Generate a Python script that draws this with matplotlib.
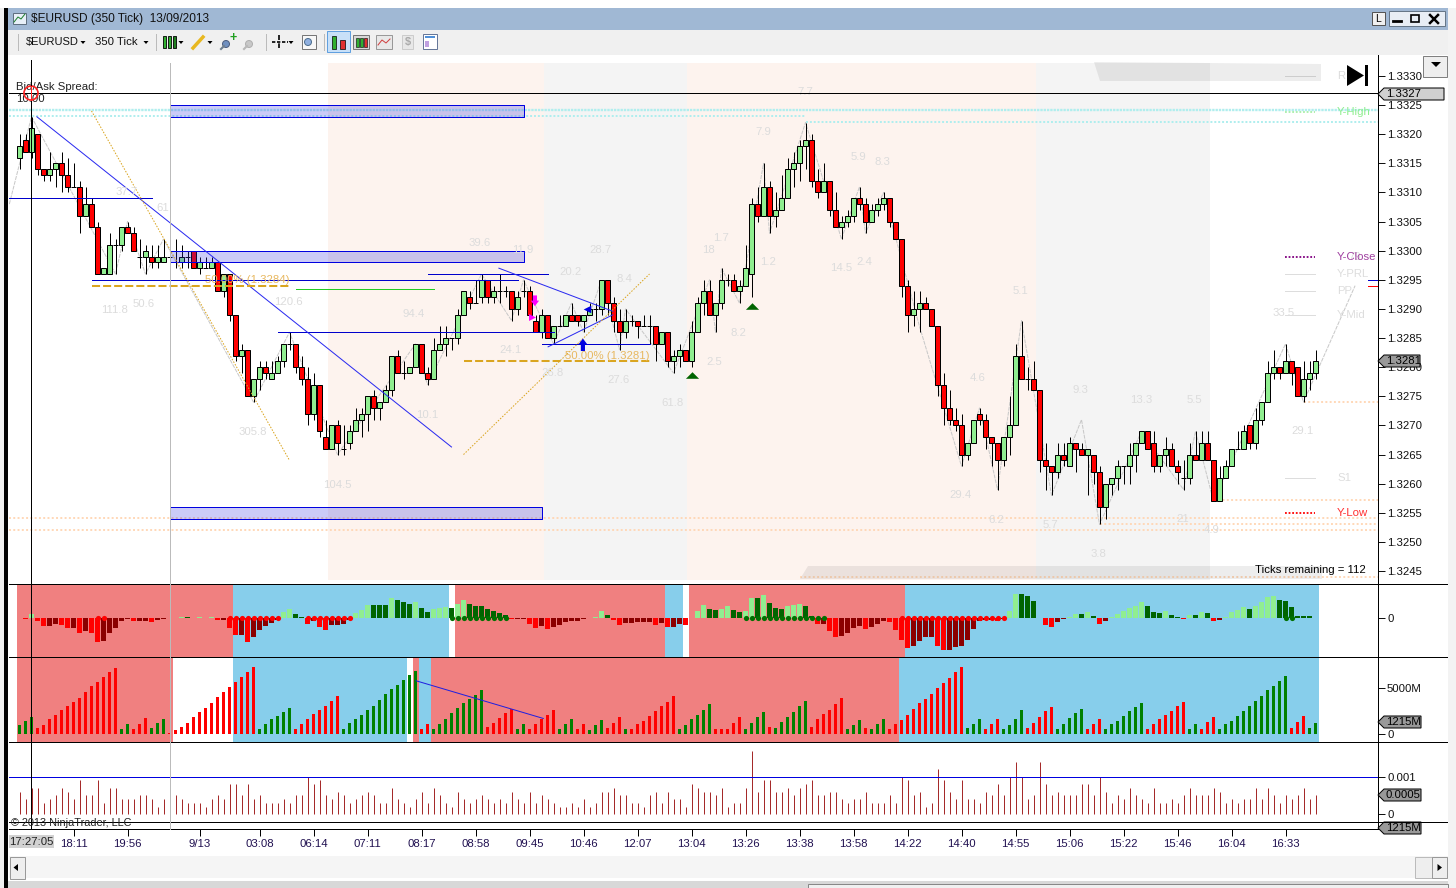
import numpy as np
import matplotlib
matplotlib.use("Agg")
import matplotlib.pyplot as plt
from matplotlib.patches import Polygon, Rectangle, Circle

plt.rcParams['font.family'] = ['Liberation Sans', 'DejaVu Sans']

W, H = 1456, 888
LW = 0.72  # one pixel at 100 dpi

# candles, prices in pips (3316 = 1.3316)
bar_open = [
 3316,3319,3317,3320,3314,3313,3314,3315,3313,3311,
 3311,3306,3308,3304,3296,3296,3301,3301,3304,3303,
 3299,3299,3299,3298,3298,3299,3298,3298,3299,3300,
 3297,3297,3297,3298,3293,3296,3289,3282,3283,3275,
 3278,3280,3278,3279,3281,3284,3284,3280,3278,3272,
 3277,3268,3266,3270,3266,3267,3269,3271,3272,3275,
 3273,3274,3276,3282,3279,3279,3280,3284,3279,3278,
 3283,3284,3285,3285,3289,3292,3291,3292,3295,3292,
 3293,3293,3293,3290,3293,3293,3288,3286,3289,3285,
 3287,3287,3289,3289,3288,3289,3290,3290,3295,3291,
 3288,3286,3288,3288,3287,3287,3287,3284,3286,3281,
 3282,3283,3281,3286,3291,3293,3289,3291,3295,3295,
 3293,3294,3296,3308,3306,3311,3306,3307,3309,3314,
 3315,3318,3319,3312,3310,3312,3307,3304,3305,3306,
 3309,3308,3305,3307,3308,3309,3305,3302,3294,3289,
 3290,3291,3290,3287,3277,3273,3271,3270,3265,3267,
 3272,3271,3268,3267,3264,3268,3270,3282,3278,3278,
 3276,3264,3263,3262,3265,3263,3267,3266,3265,3265,
 3262,3256,3260,3261,3263,3263,3265,3267,3269,3267,
 3263,3265,3266,3263,3261,3261,3265,3264,3267,3264,
 3257,3261,3263,3266,3266,3270,3267,3271,3274,3279,
 3280,3279,3281,3280,3275,3278,3279]
bar_high = [
 3320,3320,3323,3320,3314,3317,3315,3317,3316,3315,
 3312,3311,3309,3305,3297,3303,3302,3304,3305,3304,
 3302,3301,3301,3301,3302,3302,3302,3301,3300,3300,
 3299,3299,3299,3298,3296,3296,3289,3284,3283,3278,
 3281,3281,3281,3282,3284,3286,3284,3282,3280,3279,
 3277,3271,3270,3271,3270,3270,3273,3273,3275,3276,
 3274,3277,3282,3283,3281,3280,3284,3284,3280,3285,
 3287,3287,3285,3290,3293,3293,3295,3296,3295,3294,
 3296,3294,3293,3293,3295,3294,3289,3290,3289,3287,
 3289,3289,3291,3289,3289,3291,3291,3295,3295,3292,
 3290,3290,3289,3288,3289,3289,3287,3286,3286,3283,
 3284,3283,3288,3292,3295,3295,3291,3297,3296,3296,
 3295,3301,3309,3311,3315,3312,3310,3313,3316,3317,
 3319,3322,3320,3314,3315,3312,3310,3306,3307,3309,
 3311,3309,3308,3309,3310,3309,3305,3302,3295,3293,
 3293,3292,3290,3287,3279,3276,3273,3272,3267,3271,
 3273,3272,3268,3267,3268,3275,3284,3288,3280,3281,
 3276,3267,3263,3267,3267,3268,3267,3267,3266,3265,
 3263,3260,3261,3264,3263,3267,3267,3269,3269,3269,
 3265,3268,3267,3264,3264,3267,3269,3269,3269,3264,
 3263,3264,3266,3269,3270,3270,3273,3274,3281,3283,
 3280,3284,3281,3280,3281,3281,3283]
bar_low = [
 3314,3317,3316,3313,3312,3312,3311,3310,3310,3311,
 3303,3306,3304,3296,3296,3296,3296,3300,3303,3300,
 3297,3296,3297,3297,3298,3298,3297,3297,3297,3297,
 3296,3297,3297,3293,3292,3288,3281,3279,3275,3274,
 3276,3278,3278,3279,3280,3283,3279,3277,3270,3271,
 3268,3266,3266,3265,3265,3266,3269,3268,3269,3271,
 3271,3274,3275,3279,3278,3279,3280,3279,3277,3278,
 3283,3282,3283,3284,3289,3290,3291,3291,3291,3291,
 3291,3292,3288,3289,3292,3289,3286,3285,3285,3284,
 3287,3287,3288,3287,3286,3289,3288,3289,3289,3286,
 3283,3285,3287,3285,3287,3284,3281,3284,3280,3279,
 3280,3281,3280,3286,3289,3289,3286,3290,3294,3293,
 3291,3294,3292,3305,3306,3303,3304,3307,3309,3311,
 3312,3314,3311,3309,3310,3306,3304,3302,3304,3305,
 3307,3303,3305,3306,3307,3304,3302,3292,3286,3287,
 3286,3290,3287,3275,3270,3270,3269,3263,3264,3267,
 3270,3266,3263,3259,3263,3265,3270,3278,3276,3276,
 3262,3259,3258,3261,3263,3263,3262,3265,3258,3260,
 3253,3254,3258,3259,3260,3260,3262,3267,3266,3262,
 3262,3263,3263,3260,3259,3260,3264,3264,3264,3257,
 3257,3261,3263,3266,3266,3266,3266,3270,3274,3278,
 3278,3279,3277,3275,3274,3276,3278]
bar_close = [
 3318,3317,3321,3314,3313,3314,3315,3313,3311,3311,
 3306,3308,3304,3296,3297,3301,3301,3304,3303,3300,
 3299,3300,3298,3299,3299,3299,3298,3299,3299,3297,
 3298,3297,3298,3293,3296,3289,3282,3283,3275,3278,
 3280,3279,3279,3281,3284,3284,3280,3278,3272,3277,
 3269,3266,3270,3267,3266,3269,3271,3272,3275,3273,
 3274,3276,3282,3279,3279,3280,3284,3279,3278,3283,
 3284,3285,3285,3289,3293,3291,3291,3295,3292,3293,
 3293,3293,3290,3292,3293,3289,3286,3289,3285,3287,
 3287,3289,3288,3288,3289,3290,3290,3295,3291,3288,
 3286,3288,3288,3287,3287,3287,3284,3286,3281,3282,
 3283,3281,3286,3291,3293,3289,3291,3295,3295,3293,
 3294,3297,3308,3306,3311,3306,3307,3309,3314,3315,
 3318,3319,3312,3310,3312,3307,3304,3305,3306,3309,
 3308,3305,3307,3308,3309,3305,3302,3294,3289,3290,
 3291,3290,3287,3277,3273,3271,3270,3265,3267,3271,
 3271,3268,3267,3264,3268,3270,3282,3278,3278,3276,
 3264,3263,3262,3265,3264,3267,3266,3265,3266,3262,
 3256,3260,3261,3263,3263,3265,3267,3269,3266,3263,
 3265,3266,3263,3262,3261,3265,3264,3267,3264,3257,
 3261,3263,3266,3266,3269,3267,3271,3274,3279,3280,
 3279,3281,3279,3275,3278,3279,3281]

# oscillator histogram (chart units)
hist = [
 0,-1,4,-3,-8,-8,-6,-7,-10,-10,
 -15,-13,-15,-24,-23,-15,-10,-3,-1,-3,
 -3,-3,-4,-2,-1,0,0,1,1,0,
 1,0,1,-2,-2,-10,-17,-17,-24,-19,
 -12,-8,-5,-2,6,9,4,1,-6,-3,
 -9,-12,-7,-7,-6,-2,5,8,13,13,
 13,13,20,18,16,14,16,10,6,9,
 10,11,10,14,18,14,12,12,9,7,
 5,3,-1,-1,-1,-6,-10,-8,-11,-9,
 -7,-4,-3,-3,-1,0,1,7,3,-2,
 -7,-5,-5,-4,-4,-4,-7,-5,-9,-9,
 -6,-7,0,7,13,9,8,9,12,8,
 6,7,20,20,23,15,10,9,12,13,
 14,12,2,-6,-6,-13,-19,-18,-15,-10,
 -8,-11,-9,-6,-3,-4,-12,-22,-30,-28,
 -23,-19,-19,-28,-32,-32,-29,-28,-22,-11,
 -3,-2,-2,-3,-1,7,24,24,22,17,
 0,-7,-9,-4,-1,1,4,4,6,2,
 -6,-3,1,4,7,10,12,16,12,6,
 5,7,3,1,-1,3,3,6,5,-3,
 -2,1,6,8,11,9,12,16,21,22,
 18,17,11,2,2,2,0]
red_dots = list(range(13, 15)) + list(range(35, 44)) + list(range(48, 56)) + list(range(147, 165))
green_dots = list(range(72, 82)) + list(range(121, 135)) + [211, 212]
# (first bar, last bar, colour)
hist_bg = [(0,35,'r'),(36,71,'b'),(73,107,'r'),(108,110,'b'),(112,147,'r'),(148,216,'b')]
vol_bg = [(0,25,'r'),(36,64,'b'),(66,66,'r'),(67,68,'b'),(69,146,'r'),(147,216,'b')]

# cumulative volume, sign is bar colour (+ green, - red), x 37 = millions
vol_raw = [
 27,39,51,-18,-27,-45,-57,-72,-84,-96,
 -108,-126,-144,-156,-171,-186,-198,15,30,-15,
 -30,-48,18,33,45,-3,-12,-21,-33,-51,
 -66,-78,-93,-111,-126,-141,-156,-171,-186,-201,
 15,30,45,54,66,78,-15,-30,-45,-60,
 -72,-84,-99,-114,15,33,45,57,72,84,
 102,120,135,147,162,177,189,-15,-30,15,
 30,45,63,78,93,105,117,132,-21,-33,
 -48,-63,-75,15,30,-15,-30,-45,-57,-72,
 15,30,45,-15,-30,12,27,42,-18,-33,
 -51,15,-15,-30,-39,-54,-69,-84,-96,-114,
 15,27,45,57,72,90,-15,-15,-15,-33,
 -51,15,33,51,66,-21,18,36,51,66,
 84,99,-21,-45,-60,-72,-90,-108,15,27,
 42,-18,15,30,45,-15,-30,-42,-57,-75,
 -93,-105,-120,-138,-153,-168,-186,-201,18,30,
 45,-15,-30,-45,15,27,45,72,-18,-33,
 -51,-69,-81,15,30,48,63,75,-15,-30,
 -45,15,30,39,54,69,81,93,-15,-30,
 -45,-57,-69,-84,-96,15,30,-15,-36,-51,
 15,30,39,54,69,84,99,114,132,144,
 159,174,-18,-36,-54,18,33]

# bar range in pips
bar_range = [
 6,4,7,7,3,4,5,7,6,4,
 9,5,5,9,3,7,7,4,4,4,
 5,5,4,2,4,4,5,4,3,3,
 3,2,4,5,4,8,8,5,8,4,
 5,3,3,3,4,3,5,5,10,8,
 9,5,4,6,5,3,4,5,6,5,
 3,3,7,4,3,2,4,6,3,7,
 5,3,2,6,4,3,4,5,4,3,
 4,3,6,4,3,6,3,5,4,3,
 2,2,3,2,4,2,3,6,6,7,
 5,5,3,3,2,5,6,3,6,4,
 4,2,8,7,6,6,5,7,2,3,
 3,7,17,6,9,9,6,6,7,5,
 7,8,9,5,5,6,6,4,3,4,
 4,6,3,3,3,5,3,10,9,5,
 6,2,3,12,9,6,4,9,4,4,
 3,6,5,8,5,10,14,10,4,5,
 14,8,5,6,5,5,5,8,8,5,
 10,6,3,5,4,7,5,4,3,7,
 3,3,4,3,5,7,5,5,5,7,
 6,3,4,3,4,4,7,4,7,5,
 3,5,4,5,7,4,5]

tick_bars = [9,18,30,40,49,58,67,76,85,94,103,112,121,130,139,148,157,166,175,184,193,202,211]
tick_labels = ['18:11','19:56','9/13','03:08','06:14','07:11','08:17','08:58','09:45','10:46',
               '12:07','13:04','13:26','13:38','13:58','14:22','14:40','14:55','15:06','15:22',
               '15:46','16:04','16:33']

# swing line
zig_x = [-1.7,2,16,18,21,24,39,45,53,66,68,77,82,84,89,92,94,97,100,101,109,115,116,117,120,124,125,
         131,137,140,141,144,150,157,160,163,167,172,177,180,187,194,196,199,211,214,222.6]
zig_y = [3308,3323,3296,3305,3296,3302,3274,3286,3265,3284,3277,3296,3288,3295,3284,3291,3286,3295,3283,3290,
         3279,3295,3286,3297,3291,3315,3303,3322,3302,3311,3303,3310,3287,3263,3273,3259,3288,3258,3271,3253,
         3269,3259,3269,3257,3284,3274,3294]

# faint swing sizes
swing_text = ['61','37.7','111.8','50.6','120.6','305.8','104.5','94.4','10.1','39.6','11.9','28.7','20.2','8.4',
              '24.1','26.8','27.6','61.8','18','1.7','1.2','8.2','2.5','7.9','7.7','5.9','8.3','14.5','2.4','5.1',
              '4.6','29.4','6.2','5.7','9.3','3.8','13.3','5.5','21','4.9','33.5','29.1','79']
swing_x = [23.9,17.9,15.9,20.75,44.9,38.9,52.9,65.75,67.9,76.75,83.9,96.75,91.75,100.75,
           81.75,88.75,99.75,108.75,114.9,116.9,124.75,119.75,115.75,123.9,130.9,139.9,143.75,136.9,140.75,166.75,
           159.75,156.75,162.75,171.75,176.75,179.9,186.9,195.9,193.9,198.75,210.75,213.75,222.5]
swing_y = [3307.3,3310.1,3289.8,3290.9,3291.2,3268.9,3259.8,3289.1,3271.8,3301.3,3300.1,3300.1,3296.3,3295.1,
           3283,3279,3277.8,3273.9,3300.1,3302.2,3298.1,3285.9,3280.9,3320.4,3327.3,3316.1,3315.2,3297,3298.1,3293.1,
           3278.1,3258.1,3253.8,3252.9,3276.1,3247.9,3274.4,3274.4,3253.9,3252,3289.3,3269,3299]

# session shading (bar from, bar to)
warm_zones = [(51.4,87.4),(111.25,169.4)]
grey_zones = [(87.4,111.25),(169.4,198.4)]
# supply/demand boxes: bar from, bar to, pip low, pip high
boxes = [(25,84.1,3323,3325),(25,84.1,3298,3300),(25,87.1,3254,3256)]
# blue horizontals: pip, bar from, bar to
blue_levels = [(3309,-1.7,22),(3295,12,83),(3296,68,88),(3286,43,89),(3284,87,105)]
# blue trend lines: x0,y0,x1,y1
blue_trends = [(2.9,3323,72,3266.3),(79.9,3297,98.9,3289.6),(88.1,3283.5,98.9,3289)]
fib_lines = [(12,3324,45,3264),(74,3265,105,3296)]
fib_levels = [(3294,12,45,'50.00% (1.3284)',38,3295),(3281,74,105,'50.00% (1.3281)',98,3281.9)]
green_level = (3293.5,46,69)
# dotted levels: pip, bar from, bar to
cyan_levels = [(3324.2,-1.7,226.4),(3323.1,-1.7,131),(3322.1,131,226.4)]
peach_levels = [(3254.1,-1.7,226.4),(3252,-1.7,226.4),(3253,180,226.4),(3257.2,199,226.4),(3274,214,226.4),(3244,130,226.4)]
# right hand legend: name, pip, line colour, text colour
legend_names = ['R','Y-High','Y-Close','Y-PRL','PP','Y-Mid','S1','Y-Low']
legend_pips = [3330,3323.8,3298.9,3296,3293,3289,3261,3255]
legend_line = ['#DDDDDD','#A8EEA8','#800080','#DDDDDD','#DDDDDD','#DDDDDD','#DDDDDD','#FF0000']
legend_text = ['#DDDDDD','#90EE90','#A040A0','#DDDDDD','#DDDDDD','#DDDDDD','#DDDDDD','#FF3030']


def axes_px(x0, y0, x1, y1, **kw):
    return fig.add_axes([x0 / W, 1 - y1 / H, (x1 - x0) / W, (y1 - y0) / H], **kw)


def pr(p):
    return 1 + np.asarray(p, dtype=float) / 10000.0


fig = plt.figure(figsize=(W / 100, H / 100), dpi=100, facecolor='white')

xlim = ((9 - 19.5) / 6, (1378 - 19.5) / 6)
x = np.arange(len(bar_close))
FS = 8.2

# price panel
ax = axes_px(9, 55, 1378, 584, zorder=1)
ax.set_xlim(xlim)
ax.set_ylim(pr(3330 - 508 / 5.824), pr(3330 + 21 / 5.824))
for a, b in warm_zones:
    ax.fill_between([a, b], pr(3243.5), pr(3332.2), color='#FDF3EE', lw=0, zorder=0.5)
for a, b in grey_zones:
    ax.fill_between([a, b], pr(3243.5), pr(3332.2), color='#F4F4F4', lw=0, zorder=0.5)

for i, (p, a, b) in enumerate(cyan_levels):
    if i == 0:
        ax.plot([a, b], pr([p, p]), color='#B0EEEE', lw=1.7, ls=(0, (1, 0.4)), zorder=1)
    else:
        ax.plot([a, b], pr([p, p]), color='#AEEEEE', lw=1.4, ls=(0, (1, 1)), zorder=1)
for p, a, b in peach_levels:
    ax.plot([a, b], pr([p, p]), color='#FFD8B8', lw=1.4, ls=(0, (1, 1.2)), zorder=1)

ax.plot(zig_x, pr(zig_y), color='#C8C8C8', lw=LW, ls=(0, (4, 1)), zorder=2)

# candles
bo, bh, bl, bc = map(np.array, (bar_open, bar_high, bar_low, bar_close))
ax.vlines(x, pr(bl), pr(bh), color='black', lw=LW, zorder=3)
up = bc > bo
dn = bc < bo
ax.bar(x[up], pr(bc[up]) - pr(bo[up]), bottom=pr(bo[up]), width=0.68, color='#90EE90', edgecolor='black', lw=LW, zorder=4)
ax.bar(x[dn], pr(bo[dn]) - pr(bc[dn]), bottom=pr(bc[dn]), width=0.68, color='#FF0000', edgecolor='black', lw=LW, zorder=4)
doji = bc == bo
ax.hlines(pr(bc[doji]), x[doji] - 0.4, x[doji] + 0.4, color='black', lw=LW, zorder=4)

for a, b, lo, hi in boxes:
    ax.fill_between([a, b], pr(lo), pr(hi), color='#3030E0', alpha=0.25, lw=0, zorder=5)
    ax.plot([a, b, b, a, a], pr([lo, lo, hi, hi, lo]), color='#0000E0', lw=LW, zorder=5)
for p, a, b in blue_levels:
    ax.plot([a, b], pr([p, p]), color='#0000CC', lw=LW, zorder=5)
for x0, y0, x1, y1 in blue_trends:
    ax.plot([x0, x1], pr([y0, y1]), color='#2A2AF0', lw=LW, zorder=5)
for x0, y0, x1, y1 in fib_lines:
    ax.plot([x0, x1], pr([y0, y1]), color='#DAA520', lw=LW, ls=(0, (1.5, 1.5)), zorder=5)
for p, a, b, txt, tx, ty in fib_levels:
    ax.plot([a, b], pr([p, p]), color='#DAA520', lw=1.45, ls=(0, (4, 1.5)), zorder=5)
    ax.text(tx, pr(ty), txt, color='#E8B860', fontsize=FS, ha='center', va='center', zorder=6)
ax.plot(green_level[1:], pr([green_level[0]] * 2), color='#22CC22', lw=LW, zorder=5)

for s, sx, sy in zip(swing_text, swing_x, swing_y):
    ax.text(sx, pr(sy), s, color='#DCDCDC', fontsize=8.2, ha='center', va='center', zorder=6)

# right legend
for n, p, lc, tc in zip(legend_names, legend_pips, legend_line, legend_text):
    dotted = n in ('Y-High', 'Y-Close', 'Y-Low')
    ax.plot([210.9, 215.9], pr([p, p]), color=lc, lw=1.3 if dotted else LW, ls=(0, (1, 1)) if dotted else '-', zorder=6)
    ax.text(219.6, pr(p), n, color=tc, fontsize=FS, ha='left', va='center', zorder=6)
ax.plot([224.7, 226.4], pr([3295, 3295]), color='#0000CC', lw=LW, zorder=6)
ax.plot([224.7, 226.4], pr([3294, 3294]), color='#FF0000', lw=LW, zorder=6)

flat_up = [(-1, -0.5), (1, -0.5), (0, 0.5)]
ax.scatter([112, 122], pr([3278.6, 3290.5]), marker=flat_up, s=90, color='#006400', lw=0, zorder=7)
ax.scatter([85.4], pr([3288.6]), marker='>', s=25, color='#FF00FF', lw=0, zorder=7)
ax.scatter([94.6], pr([3290]), marker='<', s=30, color='#0000E0', lw=0, zorder=7)
ax.annotate('', xy=(85.9, pr(3290)), xytext=(85.9, pr(3292.8)),
            arrowprops=dict(arrowstyle='simple,head_width=0.6,head_length=0.4,tail_width=0.3', color='#FF00FF', lw=0), zorder=7)
ax.annotate('', xy=(93.9, pr(3285.4)), xytext=(93.9, pr(3282.3)),
            arrowprops=dict(arrowstyle='simple,head_width=0.6,head_length=0.4,tail_width=0.3', color='#0000E0', lw=0), zorder=7)

ax.set_yticks(pr(np.arange(3245, 3331, 5)))
ax.set_yticklabels(['%.4f' % v for v in pr(np.arange(3245, 3331, 5))])
ax.text(224.3, pr(3245.2), 'Ticks remaining = 112', color='black', fontsize=FS, ha='right', va='center', zorder=7)
ax.text(-0.6, pr(3328.1), 'Bid/Ask Spread:', color='#222222', fontsize=FS, ha='left', va='center', zorder=7)
ax.text(-0.6, pr(3326.1), '10.00', color='#222222', fontsize=FS, ha='left', va='center', zorder=7)
ax.axhline(pr(3327), color='black', lw=LW, zorder=7)

# oscillator panel
ax1 = axes_px(9, 584, 1378, 657, zorder=1)
ax1.set_xlim(xlim)
ax1.set_ylim(-39.5, 33.5)
bg_col = {'r': '#F08080', 'b': '#87CEEB'}
for a, b, c in hist_bg:
    ax1.axvspan(a - 0.5, b + 0.5, color=bg_col[c], lw=0, zorder=0)
colors = []
prev = 0
for v in hist:
    if v >= 0:
        colors.append('#90EE90' if v > prev else '#006400')
    else:
        colors.append('#FF0000' if v < prev else '#8B0000')
    prev = v
ax1.bar(x, hist, width=0.68, color=colors, lw=0, zorder=2)
ax1.scatter(red_dots, [0] * len(red_dots), s=14, color='#FF0000', lw=0, zorder=3)
ax1.scatter(green_dots, [0] * len(green_dots), s=14, color='#007000', lw=0, zorder=3)
ax1.set_yticks([0])
ax1.set_yticklabels(['0'])

# volume panel
ax2 = axes_px(9, 657, 1378, 742, zorder=1)
ax2.set_xlim(xlim)
ax2.set_ylim(-8.5 * 111, 76.5 * 111)
for a, b, c in vol_bg:
    ax2.axvspan(a - 0.5, b + 0.5, color=bg_col[c], lw=0, zorder=0)
vol = np.abs(vol_raw) * 37
vol_col = ['#008000' if v > 0 else '#FF0000' for v in vol_raw]
ax2.bar(x, vol, width=0.62, color=vol_col, lw=0, zorder=2)
ax2.plot([66.1, 87.3], [5850, 1670], color='#2020E0', lw=LW, zorder=3)
ax2.set_yticks([0, 5000])
ax2.set_yticklabels(['0', '5000M'])

# range panel
ax3 = axes_px(9, 742, 1378, 822, zorder=1)
ax3.set_xlim(xlim)
ax3.set_ylim(-8 / 37.3 * 0.001, 72 / 37.3 * 0.001)
ax3.vlines(x, 0, np.array(bar_range) * 0.0001, color='#A52A2A', lw=LW, zorder=2)
ax3.axhline(0.001, color='#0000E0', lw=LW, zorder=3)
ax3.set_yticks([0, 0.001])
ax3.set_yticklabels(['0', '0.001'])

for a in (ax, ax1, ax2, ax3):
    a.yaxis.tick_right()
    a.tick_params(axis='y', length=5, width=LW, pad=1.5, labelsize=FS, colors='#111111')
    a.set_xticks([])
    for s in ('top', 'bottom', 'left'):
        a.spines[s].set_visible(False)
    a.spines['right'].set_linewidth(LW)

# time axis
ax4 = axes_px(9, 822, 1378, 829, zorder=1)
ax4.set_xlim(xlim)
ax4.set_ylim(0, 1)
ax4.set_yticks([])
ax4.set_xticks(tick_bars)
ax4.set_xticklabels(tick_labels, color='#201050', fontsize=FS)
ax4.tick_params(axis='x', length=5, width=LW, pad=2.5, direction='out')
for s in ('top', 'left'):
    ax4.spines[s].set_visible(False)
ax4.spines['bottom'].set_linewidth(LW)
ax4.spines['right'].set_linewidth(LW)
ax4.patch.set_alpha(0)

# window chrome, pixel coordinates
top = axes_px(0, 0, W, H, zorder=5)
top.set_xlim(0, W)
top.set_ylim(H, 0)
top.axis('off')
top.patch.set_alpha(0)


def rect(x0, y0, x1, y1, fc, ec='none', lw=LW):
    top.add_patch(Rectangle((x0, y0), x1 - x0, y1 - y0, fc=fc, ec=ec, lw=lw))


def tag(y, xr, txt, fc):
    top.add_patch(Polygon([(1378, y), (1384, y - 6), (xr, y - 6), (xr, y + 6), (1384, y + 6)], fc=fc, ec='black', lw=LW))
    top.text(1386, y, txt, fontsize=FS, color='black', va='center', ha='left')


# faint bands at the top and bottom of the price panel
top.add_patch(Polygon([(1094,62),(1321,64),(1321,81),(1100,81)], fc='black', alpha=0.07, ec='none'))
top.add_patch(Polygon([(800,579),(808,566),(1322,566),(1322,579)], fc='black', alpha=0.07, ec='none'))

rect(4, 8, 7.5, 888, 'black')
rect(0, 8, 4, 888, '#F0F0F0')
rect(7.5, 8, 1448, 30, '#A0B8D4')
rect(7.5, 30, 1448, 55, '#F0F0F0')
rect(1448, 8, 1456, 888, '#F3F3F3')
top.text(31, 19, '$EURUSD (350 Tick)  13/09/2013', fontsize=8.6, color='#111111', va='center')
rect(13, 13, 26, 24, '#E8F0F8', '#607080')
top.plot([14, 18, 21, 25], [22, 17, 19, 14], color='#208030', lw=LW)

top.text(26, 42, '$EURUSD', fontsize=8, color='#111111', va='center')
top.text(95, 42, '350 Tick', fontsize=8.2, color='#111111', va='center')
for tx in (83, 146, 181, 210, 291):
    top.add_patch(Polygon([(tx - 2.5, 41), (tx + 2.5, 41), (tx, 44)], fc='black', ec='none'))
for sx in (18, 156, 266, 324):
    top.plot([sx, sx], [34, 50], color='#BBBBBB', lw=LW)
for cx, cc in ((164, '#30B030'), (169, '#30B030'), (174, '#208020')):
    rect(cx - 1.5, 36, cx + 1.5, 48, cc, 'black', 0.6)
top.plot([193, 203], [48, 37], color='#E8B820', lw=2.5)
top.add_patch(Circle((226, 44), 3.5, fc='#7090C0', ec='#506080', lw=LW))
top.plot([221, 224], [49, 46], color='#708090', lw=1.5)
top.text(233, 38, '+', color='#20A020', fontsize=9, weight='bold', ha='center', va='center')
top.add_patch(Circle((249, 44), 3.5, fc='#C8C8C8', ec='#B0B0B0', lw=LW))
top.plot([244, 247], [49, 46], color='#B8B8B8', lw=1.5)
top.plot([272, 288], [42, 42], color='black', lw=1.2, ls=(0, (2, 1)))
top.plot([279, 279], [35, 48], color='black', lw=1.2, ls=(0, (3, 2)))
rect(302, 35, 316, 49, '#F8F8F8', '#777777')
top.add_patch(Circle((308, 42), 3.5, fc='#90B0E0', ec='#507090', lw=LW))
rect(327, 31, 350, 52, '#C8E0F8', '#60A0E0')
rect(332, 36, 336, 49, '#30B030', 'black', 0.5)
rect(340, 40, 345, 49, '#E03030', 'black', 0.5)
rect(353, 35, 369, 49, '#D8D8D8', '#777777')
for cx, cc in ((357, '#30B030'), (361, '#30B030'), (365, '#E03030')):
    rect(cx - 1.5, 38, cx + 1.5, 47, cc, 'black', 0.4)
rect(376, 35, 392, 49, '#E8E8E8', '#999999')
top.plot([378, 382, 386, 390], [45, 40, 43, 39], color='#D04040', lw=LW)
rect(402, 35, 413, 49, '#E8E8E8', '#CCCCCC')
top.text(407.5, 42, '$', color='#AAAAAA', fontsize=8, ha='center', va='center', weight='bold')
rect(423, 34, 437, 49, '#FFFFFF', '#667799')
rect(425, 36, 435, 38.5, '#5090D8')
rect(425, 41, 429, 47, '#C0A0E0')

rect(1372, 12, 1385, 25, '#F0F0F0', '#555555')
top.text(1378.5, 18.5, 'L', fontsize=7.5, ha='center', va='center')
rect(1389, 11, 1445, 26, '#E8EEF5', '#667788')
top.plot([1393, 1401], [21, 21], color='black', lw=2)
rect(1411, 15, 1419, 22, 'none', 'black', 1.2)
top.plot([1430, 1438], [15, 23], color='black', lw=1.8)
top.plot([1438, 1430], [15, 23], color='black', lw=1.8)
rect(1423, 56, 1447, 77, '#EEEEEE', '#808080')
top.add_patch(Polygon([(1431, 62), (1441, 62), (1436, 67)], fc='black', ec='none'))

# skip-to-end icon
top.add_patch(Polygon([(1347, 65), (1347, 86), (1364, 75.5)], fc='black', ec='none'))
rect(1364.5, 65, 1368, 86, 'black')

# separators, cursor
for y in (584, 657, 742, 822):
    top.plot([9, 1447], [y, y], color='black', lw=LW)
top.plot([30.5, 30.5], [60, 829], color='black', lw=LW)
top.plot([169.5, 169.5], [63, 829], color='#BBBBBB', lw=LW)
top.add_patch(Circle((31, 93), 7, fc='none', ec='#FF2020', lw=1.2))
top.plot([31, 31], [86, 100], color='#FF2020', lw=LW)

rect(9, 835, 54, 848, '#D2D2D2')
top.text(31.5, 842, '17:27:05', fontsize=FS, color='#222222', ha='center', va='center')
top.text(11, 823, '© 2013 NinjaTrader, LLC', fontsize=7.8, color='#222222', va='center', ha='left')

tag(94, 1444, '1.3327', '#D0D0D0')
tag(361, 1420, '1.3281', '#999999')
tag(722, 1421, '1215M', '#999999')
tag(795, 1421, '0.0005', '#999999')
tag(828, 1421, '1215M', '#999999')

# scroll bar and tab strip
rect(9, 856, 1448, 878, '#F5F5F5')
rect(10, 857, 25, 879, '#EEEEEE', '#999999')
top.add_patch(Polygon([(13.5, 867.5), (18, 864), (18, 871)], fc='black', ec='none'))
rect(1415, 857, 1432, 878, '#EEEEEE', '#BBBBBB')
rect(1432, 857, 1447, 878, '#EEEEEE', '#999999')
top.add_patch(Polygon([(1442, 867.5), (1437.5, 864), (1437.5, 871)], fc='black', ec='none'))
rect(7.5, 881, 1448, 888, '#D8D8D8')
rect(808, 884, 1448, 888, '#F0F0F0', '#888888')

fig.savefig('out.png', dpi=100)
